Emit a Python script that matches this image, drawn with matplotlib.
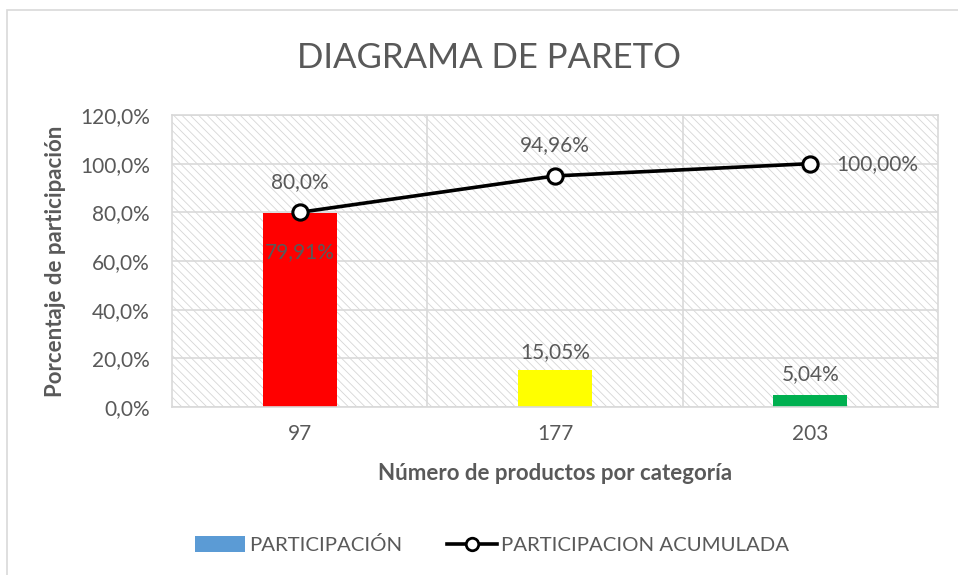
import matplotlib.pyplot as plt
from matplotlib.patches import Rectangle, Patch
from matplotlib.lines import Line2D
from matplotlib.ticker import FuncFormatter

plt.rcParams['font.family'] = ['Lato', 'DejaVu Sans']
plt.rcParams['hatch.linewidth'] = 0.6

# data
categorias = ['97', '177', '203']
participacion = [79.91, 15.05, 5.04]
acumulada = [80.0, 94.96, 100.0]
etiquetas_barra = ['79,91%', '15,05%', '5,04%']
etiquetas_linea = ['80,0%', '94,96%', '100,00%']
colores = ['#FF0000', '#FFFF00', '#00B050']

gris = '#595959'

fig = plt.figure(figsize=(9.58, 5.75), dpi=100)
ax = fig.add_axes([172 / 958, 1 - 407 / 575, 766 / 958, 292 / 575])

# outer chart border
fig.patches.append(Rectangle((7 / 958, -0.1), 1.2, 1.1 - 10 / 575, transform=fig.transFigure,
                             fill=False, edgecolor='#d9d9d9', linewidth=1.2, zorder=0))

# hatched plot area
ax.add_patch(Rectangle((0, 0), 1, 1, transform=ax.transAxes, facecolor='white',
                       edgecolor='#d6d6d6', hatch='\\\\\\\\', linewidth=0, zorder=0.1))

x = range(len(categorias))
ax.bar(x, participacion, width=0.29, color=colores, zorder=2)
ax.plot(x, acumulada, color='black', linewidth=2.6, marker='o', markersize=11,
        markerfacecolor='white', markeredgecolor='black', markeredgewidth=2.2, zorder=3)

# labels
fs = 15
ax.text(0, 63.7, etiquetas_barra[0], ha='center', va='center', fontsize=fs, color=gris, zorder=4)
ax.text(1, participacion[1] + 3.5, etiquetas_barra[1], ha='center', va='bottom', fontsize=fs, color=gris, zorder=4)
ax.text(2, participacion[2] + 4.5, etiquetas_barra[2], ha='center', va='bottom', fontsize=fs, color=gris, zorder=4)
for i in (0, 1):
    ax.text(i, acumulada[i] + 8.5, etiquetas_linea[i], ha='center', va='bottom', fontsize=fs, color=gris, zorder=4)
ax.text(2 + 0.1, acumulada[2], etiquetas_linea[2], ha='left', va='center', fontsize=fs, color=gris, zorder=4)

ax.set_xlim(-0.5, 2.5)
ax.set_ylim(0, 120)
ax.set_yticks(range(0, 121, 20))
ax.yaxis.set_major_formatter(FuncFormatter(lambda v, p: f'{v:.1f}%'.replace('.', ',')))
ax.set_xticks(list(x))
ax.set_xticklabels(categorias)
ax.set_xticks([0.5, 1.5], minor=True)
ax.tick_params(axis='both', which='both', length=0, labelsize=15, colors=gris)
ax.tick_params(axis='y', pad=16)
ax.tick_params(axis='x', pad=12)

ax.grid(axis='y', color='#d9d9d9', linewidth=1.2, zorder=0.5)
ax.grid(axis='x', which='minor', color='#d9d9d9', linewidth=1.2, zorder=0.5)
ax.set_axisbelow(True)
for s in ax.spines.values():
    s.set_color('#d9d9d9')
    s.set_linewidth(1.2)

ax.set_ylabel('Porcentaje de participación', fontsize=16, fontweight='bold', color=gris, labelpad=10)
ax.set_xlabel('Número de productos por categoría', fontsize=16, fontweight='bold', color=gris, labelpad=14)
fig.text(489 / 958, 1 - 58 / 575, 'DIAGRAMA DE PARETO', ha='center', va='center', fontsize=25, color=gris)

handles = [Patch(facecolor='#5B9BD5', edgecolor='none'),
           Line2D([], [], color='black', linewidth=2.6, marker='o', markersize=9,
                  markerfacecolor='white', markeredgecolor='black', markeredgewidth=2)]
fig.legend(handles, ['PARTICIPACIÓN', 'PARTICIPACION ACUMULADA'], loc='center',
           bbox_to_anchor=(492 / 958, 1 - 545 / 575), ncol=2, frameon=False, fontsize=14.7,
           labelcolor=gris, handlelength=2.45, handleheight=0.8, handletextpad=0.2, columnspacing=2.2)

fig.savefig('out.png', dpi=100)
